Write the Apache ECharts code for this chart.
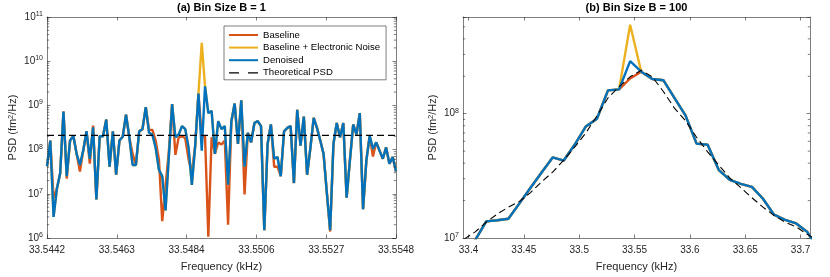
<!DOCTYPE html>
<html><head><meta charset="utf-8">
<script src="https://cdn.jsdelivr.net/npm/echarts@6/dist/echarts.min.js"></script>
<style>html,body{margin:0;padding:0;background:#fff}#c{width:830px;height:277px}</style>
</head><body><div id="c"></div>
<script>
// ---------- Panel (a): Bin Size B = 1 ----------
const freqStartA = 33.5442;   // kHz, first bin
const freqStepA = 0.0001;     // kHz per bin
const baselineA = [
 4.2e7, 1.6e8, 8.0e6, 1.3e7, 2.9e7, 7.3e8, 2.2e7, 1.6e8, 2.05e8, 8.0e7,
 3.2e7, 9.5e7, 2.6e8, 4.8e7, 3.5e8, 7.5e6, 2.0e8, 2.0e8, 4.8e8, 4.1e7,
 2.6e8, 2.7e7, 1.6e8, 1.95e8, 6.2e8, 1.9e8, 8.0e7, 4.5e7, 2.6e8, 2.9e8,
 9.1e8, 2.8e8, 2.8e8, 1.6e8, 6.0e7, 2.4e6, 1.5e7, 9.0e7, 1.07e9, 7.6e7,
 1.9e8, 2.0e8, 1.8e8, 6.0e7, 3.0e7, 1.2e8, 1.86e9, 1.9e8, 2.0e8, 1.07e6,
 1.9e8, 8.0e7, 1.45e8, 1.3e8, 1.6e8, 2.0e6, 4.4e8, 1.1e9, 1.34e8, 1.3e9,
 9.7e6, 2.4e8, 1.46e8, 4.0e8, 4.4e8, 3.4e8, 1.5e6, 1.34e8, 3.7e8, 4.1e7,
 4.1e7, 2.5e7, 2.6e8, 3.1e8, 3.4e8, 1.75e7, 7.9e8, 1.23e8, 5.6e8, 2.7e7,
 1.1e8, 5.2e8, 3.1e8, 1.6e8, 8.0e7, 1.05e7, 1.4e6, 1.34e8, 4.0e8, 1.9e8,
 4.0e8, 8.2e6, 5.7e7, 3.7e8, 2.2e8, 6.7e8, 4.5e6, 5.7e7, 2.05e8, 7.0e7,
 1.46e8, 9.5e7, 6.2e7, 1.12e8, 4.8e7, 6.8e7, 3.2e7];
const withNoiseA = [
 4.2e7, 1.6e8, 3.0e6, 1.3e7, 2.9e7, 7.3e8, 2.5e7, 1.6e8, 2.05e8, 8.0e7,
 4.5e7, 9.5e7, 2.6e8, 6.2e7, 3.2e8, 7.5e6, 2.0e8, 2.0e8, 4.8e8, 4.1e7,
 2.6e8, 2.7e7, 1.6e8, 1.95e8, 6.2e8, 1.9e8, 4.5e7, 4.5e7, 2.6e8, 2.9e8,
 9.1e8, 2.4e8, 2.2e8, 1.1e8, 3.5e7, 2.5e7, 4.2e6, 6.8e7, 1.07e9, 1.9e8,
 2.2e8, 3.4e8, 2.9e8, 1.1e8, 1.6e7, 1.2e8, 1.86e9, 2.6e10, 2.7e9, 6.7e8,
 7.5e8, 8.0e7, 4.4e8, 2.9e8, 3.4e8, 1.6e7, 4.4e8, 1.1e9, 1.34e8, 1.3e9,
 4.1e7, 2.4e8, 1.46e8, 4.0e8, 4.4e8, 3.4e8, 1.5e6, 1.34e8, 3.7e8, 6.2e7,
 6.8e7, 2.5e7, 2.6e8, 3.1e8, 3.4e8, 1.75e7, 7.9e8, 1.23e8, 5.6e8, 2.7e7,
 1.1e8, 5.2e8, 3.1e8, 1.6e8, 8.0e7, 1.05e7, 1.5e6, 1.34e8, 4.0e8, 1.9e8,
 4.0e8, 8.2e6, 5.7e7, 3.7e8, 2.2e8, 6.7e8, 4.5e6, 5.7e7, 2.05e8, 1.04e8,
 1.46e8, 9.5e7, 6.2e7, 1.12e8, 4.8e7, 6.8e7, 3.2e7];
const denoisedA = [
 4.2e7, 1.6e8, 3.0e6, 1.3e7, 2.9e7, 7.3e8, 2.5e7, 1.6e8, 2.05e8, 8.0e7,
 4.5e7, 9.5e7, 2.6e8, 6.2e7, 3.2e8, 7.5e6, 2.0e8, 2.0e8, 4.8e8, 4.1e7,
 2.6e8, 2.7e7, 1.6e8, 1.95e8, 6.2e8, 1.9e8, 4.5e7, 4.5e7, 2.6e8, 2.9e8,
 9.1e8, 2.4e8, 2.2e8, 1.1e8, 3.5e7, 2.5e7, 4.2e6, 6.8e7, 1.07e9, 1.9e8,
 2.2e8, 3.4e8, 2.9e8, 1.1e8, 1.6e7, 1.2e8, 1.86e9, 9.5e7, 2.7e9, 6.7e8,
 7.5e8, 8.0e7, 4.4e8, 2.9e8, 3.4e8, 1.6e7, 4.4e8, 1.1e9, 1.34e8, 1.3e9,
 4.1e7, 2.4e8, 1.46e8, 4.0e8, 4.4e8, 3.4e8, 1.5e6, 1.34e8, 3.7e8, 6.2e7,
 6.8e7, 2.5e7, 2.6e8, 3.1e8, 3.4e8, 1.75e7, 7.9e8, 1.23e8, 5.6e8, 2.7e7,
 1.1e8, 5.2e8, 3.1e8, 1.6e8, 8.0e7, 1.05e7, 1.5e6, 1.34e8, 4.0e8, 1.9e8,
 4.0e8, 8.2e6, 5.7e7, 3.7e8, 2.2e8, 6.7e8, 4.5e6, 5.7e7, 2.05e8, 1.04e8,
 1.46e8, 9.5e7, 6.2e7, 1.12e8, 4.8e7, 6.8e7, 3.2e7];
const theoFreqA = [33.5442, 33.5548];
const theoreticalA = [2.1e8, 2.1e8];
const xTicksA = [33.5442, 33.54632, 33.54844, 33.55056, 33.55268, 33.5548];
const xRangeA = [33.5442, 33.5548];
const yRangeA = [1e6, 1e11];
const minorTicksA = [2e6,3e6,4e6,5e6,6e6,7e6,8e6,9e6, 2e7,3e7,4e7,5e7,6e7,7e7,8e7,9e7,
  2e8,3e8,4e8,5e8,6e8,7e8,8e8,9e8, 2e9,3e9,4e9,5e9,6e9,7e9,8e9,9e9, 2e10,3e10,4e10,5e10,6e10,7e10,8e10,9e10];

// ---------- Panel (b): Bin Size B = 100 ----------
const freqB = [33.396, 33.406, 33.416, 33.426, 33.436, 33.446, 33.456, 33.466, 33.476, 33.486,
  33.496, 33.506, 33.516, 33.526, 33.536, 33.546, 33.556, 33.566, 33.576, 33.586,
  33.596, 33.606, 33.616, 33.626, 33.636, 33.646, 33.656, 33.666, 33.676, 33.686,
  33.696, 33.706, 33.716];
const baselineB = [7.0e6, 9.6e6, 1.36e7, 1.39e7, 1.43e7, 1.9e7, 2.54e7, 3.37e7, 4.45e7, 4.2e7,
  5.65e7, 7.9e7, 9.1e7, 1.54e8, 1.57e8, 1.92e8, 2.18e8, 1.9e8, 1.86e8, 1.34e8,
  9.7e7, 5.75e7, 5.63e7, 3.54e7, 2.93e7, 2.73e7, 2.58e7, 2.07e7, 1.54e7, 1.4e7,
  1.31e7, 1.12e7, 8.1e6];
const withNoiseB = [7.0e6, 9.6e6, 1.36e7, 1.39e7, 1.43e7, 1.9e7, 2.54e7, 3.37e7, 4.45e7, 4.2e7,
  5.65e7, 7.9e7, 9.1e7, 1.54e8, 1.57e8, 5.2e8, 2.18e8, 1.9e8, 1.86e8, 1.34e8,
  9.7e7, 5.75e7, 5.63e7, 3.54e7, 2.93e7, 2.73e7, 2.58e7, 2.07e7, 1.54e7, 1.4e7,
  1.31e7, 1.12e7, 8.1e6];
const denoisedB = [7.0e6, 9.6e6, 1.36e7, 1.39e7, 1.43e7, 1.9e7, 2.54e7, 3.37e7, 4.45e7, 4.2e7,
  5.65e7, 7.9e7, 9.1e7, 1.54e8, 1.57e8, 2.65e8, 2.18e8, 1.9e8, 1.86e8, 1.34e8,
  9.7e7, 5.75e7, 5.63e7, 3.54e7, 2.93e7, 2.73e7, 2.58e7, 2.07e7, 1.54e7, 1.4e7,
  1.31e7, 1.12e7, 8.1e6];
const theoreticalB = [9.8e6, 1.12e7, 1.34e7, 1.56e7, 1.77e7, 1.97e7, 2.32e7, 2.83e7, 3.39e7, 4.24e7,
  5.4e7, 7.0e7, 9.6e7, 1.34e8, 1.65e8, 1.98e8, 2.24e8, 1.98e8, 1.51e8, 1.11e8,
  8.8e7, 6.47e7, 4.93e7, 3.87e7, 3.04e7, 2.54e7, 2.11e7, 1.77e7, 1.52e7, 1.34e7,
  1.23e7, 1.07e7, 9.5e6];
const xTicksB = [33.4, 33.45, 33.5, 33.55, 33.6, 33.65, 33.7];
const xRangeB = [33.395, 33.7085];
const yRangeB = [1e7, 6e8];
const minorTicksB = [2e7,3e7,4e7,5e7,6e7,7e7,8e7,9e7, 2e8,3e8,4e8,5e8];

const seriesNames = ['Baseline', 'Baseline + Electronic Noise', 'Denoised', 'Theoretical PSD'];
const colors = ['#D95319', '#EDB120', '#0072BD', '#000000'];

// ---------- build ----------
const FONT = '"Liberation Sans", Arial, Helvetica, sans-serif';
const AX = '#262626';
const freqA = baselineA.map((_, k) => freqStartA + k * freqStepA);
const pairs = (xs, ys) => ys.map((v, k) => [xs[k], v]);

function logLabel(v) {
  const e = Math.log10(v), r = Math.round(e);
  if (Math.abs(e - r) > 1e-6) return '';
  return '{b|10}{s|' + r + '}';
}
const richLog = {
  b: { fontSize: 10, fontFamily: FONT, color: AX, lineHeight: 13 },
  s: { fontSize: 7, fontFamily: FONT, color: AX, verticalAlign: 'top', lineHeight: 8 }
};
const nameStyle = { fontSize: 11, fontFamily: FONT, color: AX,
  rich: { s: { fontSize: 7.5, fontFamily: FONT, color: AX, verticalAlign: 'top', lineHeight: 8 } } };

function xAxes(grid, range, ticks, fmt) {
  const line = { show: true, lineStyle: { color: AX, width: 0.6 } };
  const tick = { show: true, inside: true, length: 3.5, customValues: ticks, lineStyle: { color: AX, width: 0.6 } };
  return [
    { gridIndex: grid, type: 'value', position: 'bottom', min: range[0], max: range[1],
      axisLine: line, axisTick: tick, splitLine: { show: false },
      axisLabel: { customValues: ticks, formatter: fmt, fontSize: 10, fontFamily: FONT, color: AX, margin: 7 },
      name: 'Frequency (kHz)', nameLocation: 'middle', nameGap: 23, nameTextStyle: nameStyle },
    { gridIndex: grid, type: 'value', position: 'top', min: range[0], max: range[1],
      axisLine: line, axisTick: tick, splitLine: { show: false }, axisLabel: { show: false } }
  ];
}
function yAxes(grid, range, gap) {
  const line = { show: true, lineStyle: { color: AX, width: 0.6 } };
  const tick = { show: true, inside: true, length: 3.5, lineStyle: { color: AX, width: 0.6 } };
  return [
    { gridIndex: grid, type: 'log', logBase: 10, position: 'left', min: range[0], max: range[1],
      axisLine: line, axisTick: tick, splitLine: { show: false }, minorTick: { show: false },
      axisLabel: { formatter: logLabel, rich: richLog, margin: 4 },
      name: 'PSD (fm{s|2}/Hz)', nameLocation: 'middle', nameGap: gap, nameRotate: 90, nameTextStyle: nameStyle },
    { gridIndex: grid, type: 'log', logBase: 10, position: 'right', min: range[0], max: range[1],
      axisLine: line, axisTick: tick, splitLine: { show: false }, axisLabel: { show: false } }
  ];
}
function minorTicks(xi, yi, xr, vals) {
  return { type: 'custom', xAxisIndex: xi, yAxisIndex: yi, silent: true, z: 5, clip: false,
    data: vals.map(v => [xr[0], v]), encode: { x: 0, y: 1 },
    renderItem: (params, api) => {
      const y = api.coord([api.value(0), api.value(1)])[1];
      const cs = params.coordSys, l = cs.x, r = cs.x + cs.width;
      const st = { stroke: AX, lineWidth: 0.6 };
      return { type: 'group', children: [
        { type: 'line', shape: { x1: l, y1: y, x2: l + 2.2, y2: y }, style: st },
        { type: 'line', shape: { x1: r, y1: y, x2: r - 2.2, y2: y }, style: st } ] };
    } };
}
function line(name, data, color, xi, yi, dashed) {
  return { name, type: 'line', xAxisIndex: xi, yAxisIndex: yi, data, symbol: 'none', clip: true,
    lineStyle: dashed ? { color, width: 1.1, type: [7, 4] } : { color, width: 2.4 },
    itemStyle: { color }, animation: false };
}

const chart = echarts.init(document.getElementById('c'), null, { renderer: 'canvas' });
chart.setOption({
  animation: false,
  backgroundColor: '#fff',
  textStyle: { fontFamily: FONT },
  title: [
    { text: '(a) Bin Size B = 1', left: 221.5, top: 2, textAlign: 'center', padding: 0,
      textStyle: { fontSize: 11, fontWeight: 'bold', fontFamily: FONT, color: '#000' } },
    { text: '(b) Bin Size B = 100', left: 636.5, top: 2, textAlign: 'center', padding: 0,
      textStyle: { fontSize: 11, fontWeight: 'bold', fontFamily: FONT, color: '#000' } }
  ],
  grid: [
    { left: 47, top: 17, width: 349, height: 226 },
    { left: 463, top: 17, width: 347, height: 226 }
  ],
  legend: {
    data: [
      { name: seriesNames[0] }, { name: seriesNames[1] }, { name: seriesNames[2] },
      { name: seriesNames[3], lineStyle: { type: [10, 9], width: 1.3 } }
    ],
    orient: 'vertical', left: 224, top: 26,
    itemWidth: 29, itemHeight: 10, itemGap: 0.6, padding: [3, 6, 1, 4],
    itemStyle: { opacity: 0 },
    backgroundColor: '#fff', borderColor: AX, borderWidth: 0.6,
    textStyle: { fontSize: 9.6, fontFamily: FONT, color: '#000', lineHeight: 12 },
    selectedMode: false
  },
  xAxis: [
    ...xAxes(0, xRangeA, xTicksA, v => v.toFixed(4)),
    ...xAxes(1, xRangeB, xTicksB, v => String(parseFloat(v.toFixed(2))))
  ],
  yAxis: [ ...yAxes(0, yRangeA, 29), ...yAxes(1, yRangeB, 25) ],
  series: [
    line(seriesNames[0], pairs(freqA, baselineA), colors[0], 0, 0),
    line(seriesNames[1], pairs(freqA, withNoiseA), colors[1], 0, 0),
    line(seriesNames[2], pairs(freqA, denoisedA), colors[2], 0, 0),
    line(seriesNames[3], pairs(theoFreqA, theoreticalA), colors[3], 0, 0, true),
    line(seriesNames[0], pairs(freqB, baselineB), colors[0], 2, 2),
    line(seriesNames[1], pairs(freqB, withNoiseB), colors[1], 2, 2),
    line(seriesNames[2], pairs(freqB, denoisedB), colors[2], 2, 2),
    line(seriesNames[3], pairs(freqB, theoreticalB), colors[3], 2, 2, true),
    minorTicks(0, 0, xRangeA, minorTicksA),
    minorTicks(2, 2, xRangeB, minorTicksB)
  ]
});
</script></body></html>
